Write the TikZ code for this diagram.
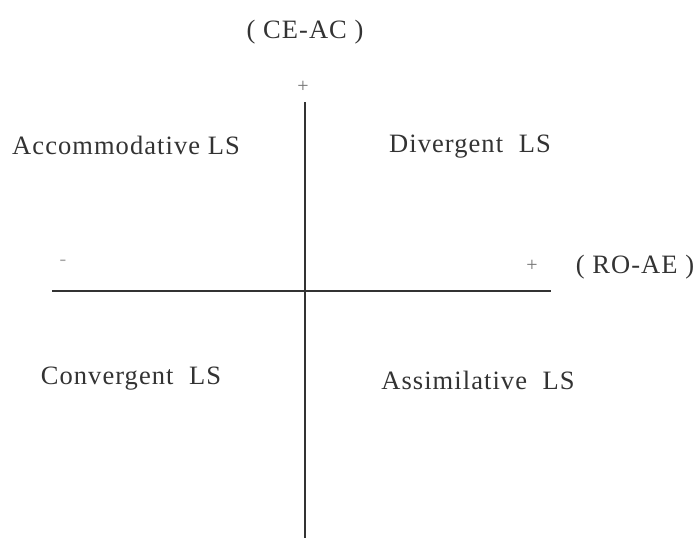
\documentclass[tikz,border=0pt]{standalone}
\usepackage{fontspec}
\setmainfont{Liberation Serif}[LetterSpace=4]
\begin{document}
\begin{tikzpicture}[x=1pt,y=-1pt,
  lbl/.style={font=\fontsize{26.5}{30}\selectfont, text=black!80, inner sep=0pt, anchor=center},
  sign/.style={font=\fontsize{20}{22}\selectfont, text=black!55, inner sep=0pt},
  axis/.style={draw=black!80, line width=1.6pt}]
\useasboundingbox (0,0) rectangle (699,546);
\coordinate (vtop) at (305,102);
\coordinate (vbot) at (305,538);
\coordinate (hleft) at (52,291);
\coordinate (hright) at (551,291);
\draw[axis] (vtop) -- (vbot);
\draw[axis] (hleft) -- (hright);
\node[lbl] (ceac) at (305,32) {( CE-AC )};
\node[lbl] (roae) at (635,267) {( RO-AE )};
\node[sign] (ptop) at (303,87) {+};
\node[sign] (pright) at (532,266) {+};
\node[sign, text=black!35] (mleft) at (63,263) {-};
\node[lbl] (acc) at (126,145) {Accommodative LS};
\node[lbl] (div) at (470,147) {Divergent\hspace{0.3em} LS};
\node[lbl] (conv) at (131,379) {Convergent\hspace{0.3em} LS};
\node[lbl] (assim) at (478,380) {Assimilative\hspace{0.3em} LS};
\end{tikzpicture}
\end{document}
